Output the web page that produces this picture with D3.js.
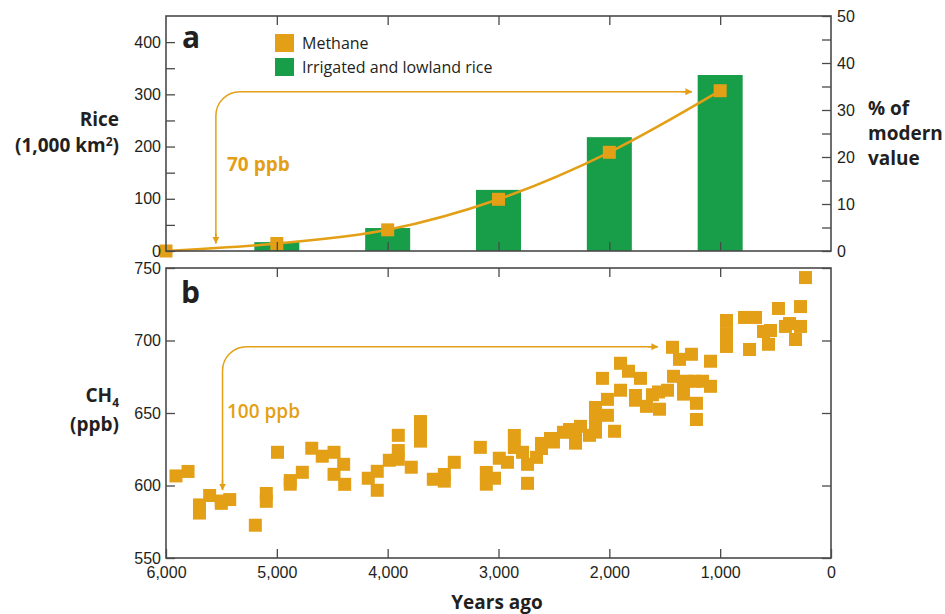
<!DOCTYPE html>
<html>
<head>
<meta charset="utf-8">
<script src="https://cdn.jsdelivr.net/npm/d3@7"></script>
<style>
  html, body { margin: 0; padding: 0; background: #fff; }
  svg { display: block; font-family: 'Open Sans', 'Noto Sans', sans-serif; }
  .tick text { fill: #231f20; font-size: 16px; }
</style>
</head>
<body>
<svg id="chart" width="945" height="614"></svg>
<script>
// ---------- DATA ----------
const riceYears = [5000, 4000, 3000, 2000, 1000];
const riceArea = [17, 44, 117, 218, 337];            // 1,000 km²

const methaneYears = [6000, 5000, 4000, 3000, 2000, 1000];
const methanePct = [0, 1.6, 4.5, 11, 21, 34.1];      // % of modern value

const ch4Years = [5910,5801,5698,5698,5606,5501,5501,5425,5194,5095,5095,4994,4879,4879,4770,4685,4590,4484,4484,4397,4388,4175,4094,4094,3985,3904,3904,3904,3787,3704,3704,3704,3588,3489,3489,3399,3164,3110,3110,3036,2993,2919,2857,2857,2783,2738,2738,2657,2612,2612,2531,2504,2414,2359,2305,2305,2260,2179,2125,2125,2125,2062,2017,2017,1953,1899,1899,1827,1719,1764,1764,1665,1611,1556,1547,1475,1430,1421,1367,1331,1331,1304,1232,1159,1259,1214,1214,1087,1087,943,943,943,780,681,735,609,546,564,474,411,374,275,275,320,230];
const ch4Ppb = [606.6,609.7,586.6,581,593.1,589.3,587.7,590.3,572.6,594.5,589.1,622.9,603.4,600.9,609.1,625.7,620.2,622.9,607.7,614.6,600.8,605,609.8,596.7,617.4,634.6,624.1,618.1,612.6,644.1,637.2,630.6,604.3,607.6,603,616,626.3,609,600.9,605,618.8,616,634.5,626.2,622.9,614.6,601.5,619.4,629,625.5,632.4,630,636.7,638.6,634.5,629.2,640.8,634.6,653.8,645.2,636.8,673.9,659.4,648.4,637.4,665.7,684.3,678.8,673.9,662.1,658.8,654.6,662.6,664.5,652.6,665.7,695.3,675.3,687,671.7,663,671.9,671.9,671.9,690.5,656.7,645.5,685.7,668.4,713.8,704.8,695.9,715.9,715.9,693.8,706.2,706.9,697.4,722.1,709.7,711.7,723.4,709.7,700.7,743.4];

const xTicks = [6000, 5000, 4000, 3000, 2000, 1000, 0];
const innerXTicks = [5000, 4000, 3000, 2000, 1000];
const riceTicks = [0, 50, 100, 150, 200, 250, 300, 350, 400];
const pctTicks = [0, 5, 10, 15, 20, 25, 30, 35, 40, 45, 50];
const ch4Ticks = [550, 600, 650, 700, 750];

// ---------- STYLE ----------
const ORANGE = "#e3a016";
const GREEN = "#189d49";
const FRAME = "#4a4a4a";
const TEXT = "#231f20";

const svg = d3.select("#chart");

// ---------- SCALES ----------
const x = d3.scaleLinear().domain([6000, 0]).range([166, 831]);
const yRice = d3.scaleLinear().domain([0, 450]).range([251, 16]);
const yPct = d3.scaleLinear().domain([0, 50]).range([251, 16]);
const yCH4 = d3.scaleLinear().domain([550, 750]).range([558, 268]);

const defs = svg.append("defs");
defs.append("marker")
  .attr("id", "arrow").attr("viewBox", "0 0 10 10")
  .attr("refX", 9).attr("refY", 5)
  .attr("markerWidth", 7).attr("markerHeight", 7)
  .attr("markerUnits", "userSpaceOnUse")
  .attr("orient", "auto")
  .append("path").attr("d", "M0,0 L10,5 L0,10 Z").attr("fill", ORANGE);

function styleAxis(g) {
  g.select(".domain").remove();
  g.selectAll(".tick line").attr("stroke", FRAME).attr("stroke-width", 1.3);
}

// ================= PANEL A =================
const pA = svg.append("g");

// bars
pA.selectAll("rect.bar").data(riceYears).join("rect")
  .attr("class", "bar")
  .attr("x", (d) => x(d) - 22.5)
  .attr("width", 45)
  .attr("y", (d, i) => yRice(riceArea[i]))
  .attr("height", (d, i) => yRice(0) - yRice(riceArea[i]))
  .attr("fill", GREEN);

// annotation arrow (70 ppb)
(function () {
  const xv = x(5550), yTip = yRice(15), yH = yRice(305), xEnd = x(1257), r = 24;
  const p = d3.path();
  p.moveTo(xEnd, yH);
  p.lineTo(xv + r, yH);
  p.arcTo(xv, yH, xv, yH + r, r);
  p.lineTo(xv, yTip);
  pA.append("path").attr("d", p.toString()).attr("fill", "none")
    .attr("stroke", ORANGE).attr("stroke-width", 1.5);
  pA.append("line").attr("x1", xv).attr("y1", yTip - 10).attr("x2", xv).attr("y2", yTip)
    .attr("stroke", ORANGE).attr("stroke-width", 1.5).attr("marker-end", "url(#arrow)");
  pA.append("line").attr("x1", xEnd - 10).attr("y1", yH).attr("x2", xEnd).attr("y2", yH)
    .attr("stroke", ORANGE).attr("stroke-width", 1.5).attr("marker-end", "url(#arrow)");
  pA.append("text").attr("x", 227).attr("y", 171).text("70 ppb")
    .attr("fill", ORANGE).attr("font-size", 19).attr("font-weight", 700);
})();

// methane curve + markers
const mPts = methaneYears.map((d, i) => [x(d), yPct(methanePct[i])]);
pA.append("path")
  .attr("d", d3.line().curve(d3.curveMonotoneX)(mPts))
  .attr("fill", "none").attr("stroke", ORANGE).attr("stroke-width", 2.6);
pA.selectAll("rect.m").data(methaneYears).join("rect")
  .attr("class", "m")
  .attr("x", (d) => x(d) - 6.5)
  .attr("y", (d, i) => yPct(methanePct[i]) - 6.5)
  .attr("width", 13).attr("height", 13)
  .attr("fill", ORANGE);

// frame
pA.append("rect").attr("x", 166).attr("y", 16).attr("width", 665).attr("height", 235)
  .attr("fill", "none").attr("stroke", FRAME).attr("stroke-width", 1.6);

// axes
pA.append("g").attr("transform", "translate(166,0)")
  .call(d3.axisLeft(yRice).tickValues(riceTicks).tickSize(-9).tickPadding(5)
    .tickFormat((d) => (d % 100 === 0 ? d : "")))
  .call(styleAxis);
pA.append("g").attr("transform", "translate(831,0)")
  .call(d3.axisRight(yPct).tickValues(pctTicks).tickSize(-9).tickPadding(6)
    .tickFormat((d) => (d % 10 === 0 ? d : "")))
  .call(styleAxis);
pA.append("g").attr("transform", "translate(0,16)")
  .call(d3.axisTop(x).tickValues(innerXTicks).tickSize(-9).tickFormat(""))
  .call(styleAxis);
pA.append("g").attr("transform", "translate(0,251)")
  .call(d3.axisBottom(x).tickValues(innerXTicks).tickSize(-9).tickFormat(""))
  .call(styleAxis);

// labels
pA.append("text").attr("x", 182).attr("y", 48).text("a")
  .attr("font-size", 30).attr("font-weight", 700).attr("fill", TEXT);

pA.append("text").attr("text-anchor", "end").attr("fill", TEXT)
  .attr("font-weight", 700).attr("font-size", 19)
  .attr("x", 119).attr("y", 126).text("Rice");
const t2 = pA.append("text").attr("text-anchor", "end").attr("fill", TEXT)
  .attr("font-weight", 700).attr("font-size", 19)
  .attr("x", 119).attr("y", 152);
t2.append("tspan").text("(1,000 km");
t2.append("tspan").attr("dy", -6).attr("font-size", 12).text("2");
t2.append("tspan").attr("dy", 6).text(")");

const pctLbl = pA.append("text").attr("fill", TEXT).attr("font-weight", 700).attr("font-size", 19);
["% of", "modern", "value"].forEach((s, i) =>
  pctLbl.append("tspan").attr("x", 868).attr("y", 115 + i * 25).text(s));

// legend
const legend = [
  { label: "Methane", color: ORANGE },
  { label: "Irrigated and lowland rice", color: GREEN }
];
const lg = pA.append("g");
legend.forEach((d, i) => {
  lg.append("rect").attr("x", 275).attr("y", 34 + i * 24).attr("width", 19).attr("height", 18)
    .attr("fill", d.color);
  lg.append("text").attr("x", 302).attr("y", 49 + i * 24).text(d.label)
    .attr("font-size", 16).attr("fill", TEXT);
});

// ================= PANEL B =================
const pB = svg.append("g");

// annotation arrow (100 ppb)
(function () {
  const xv = x(5490), yTip = yCH4(597), yH = yCH4(695.7), xEnd = x(1564), r = 24;
  const p = d3.path();
  p.moveTo(xEnd, yH);
  p.lineTo(xv + r, yH);
  p.arcTo(xv, yH, xv, yH + r, r);
  p.lineTo(xv, yTip);
  pB.append("path").attr("d", p.toString()).attr("fill", "none")
    .attr("stroke", ORANGE).attr("stroke-width", 1.5);
  pB.append("line").attr("x1", xv).attr("y1", yTip - 10).attr("x2", xv).attr("y2", yTip)
    .attr("stroke", ORANGE).attr("stroke-width", 1.5).attr("marker-end", "url(#arrow)");
  pB.append("line").attr("x1", xEnd - 10).attr("y1", yH).attr("x2", xEnd).attr("y2", yH)
    .attr("stroke", ORANGE).attr("stroke-width", 1.5).attr("marker-end", "url(#arrow)");
  pB.append("text").attr("x", 227).attr("y", 418).text("100 ppb")
    .attr("fill", ORANGE).attr("font-size", 19).attr("font-weight", 600);
})();

// scatter
pB.selectAll("rect.c").data(ch4Years).join("rect")
  .attr("class", "c")
  .attr("x", (d) => x(d) - 6.5)
  .attr("y", (d, i) => yCH4(ch4Ppb[i]) - 6.5)
  .attr("width", 13).attr("height", 13)
  .attr("fill", ORANGE);

// frame
pB.append("rect").attr("x", 166).attr("y", 268).attr("width", 665).attr("height", 290)
  .attr("fill", "none").attr("stroke", FRAME).attr("stroke-width", 1.6);

// axes
pB.append("g").attr("transform", "translate(166,0)")
  .call(d3.axisLeft(yCH4).tickValues(ch4Ticks).tickSize(-9).tickPadding(5))
  .call(styleAxis);
pB.append("g").attr("transform", "translate(831,0)")
  .call(d3.axisRight(yCH4).tickValues(ch4Ticks).tickSize(-9).tickFormat(""))
  .call(styleAxis);
pB.append("g").attr("transform", "translate(0,268)")
  .call(d3.axisTop(x).tickValues(innerXTicks).tickSize(-9).tickFormat(""))
  .call(styleAxis);
pB.append("g").attr("transform", "translate(0,558)")
  .call(d3.axisBottom(x).tickValues(xTicks).tickSize(-9).tickPadding(9)
    .tickFormat(d3.format(",")))
  .call(styleAxis);

// labels
pB.append("text").attr("x", 181).attr("y", 303).text("b")
  .attr("font-size", 30).attr("font-weight", 700).attr("fill", TEXT);

const c1 = pB.append("text").attr("text-anchor", "end").attr("fill", TEXT)
  .attr("font-weight", 700).attr("font-size", 19)
  .attr("x", 119).attr("y", 402);
c1.append("tspan").text("CH");
c1.append("tspan").attr("dy", 5).attr("font-size", 12).text("4");
pB.append("text").attr("text-anchor", "end").attr("fill", TEXT)
  .attr("font-weight", 700).attr("font-size", 19)
  .attr("x", 119).attr("y", 431).text("(ppb)");

svg.append("text").attr("x", 497).attr("y", 609).attr("text-anchor", "middle")
  .text("Years ago").attr("font-size", 19).attr("font-weight", 700).attr("fill", TEXT);
</script>
</body>
</html>
